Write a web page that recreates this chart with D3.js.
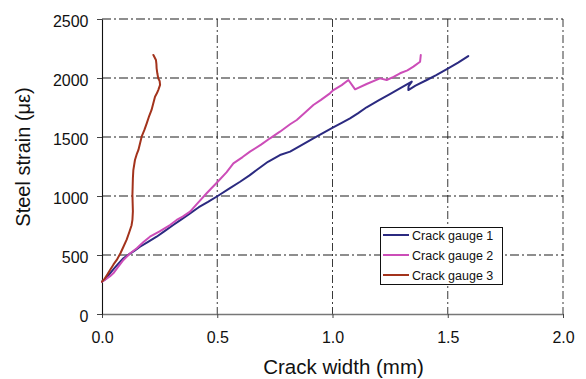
<!DOCTYPE html>
<html><head><meta charset="utf-8">
<script src="https://cdn.jsdelivr.net/npm/d3@7"></script>
<style>body{margin:0;background:#fff}svg{display:block}text{font-family:"Liberation Sans",Arial,sans-serif}</style>
</head><body><svg id="c" width="586" height="379"></svg>
<script>
const xTicks = [0, 0.5, 1.0, 1.5, 2.0];
const yTicks = [0, 500, 1000, 1500, 2000, 2500];
const seriesNames = ["Crack gauge 1", "Crack gauge 2", "Crack gauge 3"];
const seriesColors = ["#2b2a80", "#cc4db8", "#a3331c"];

const gauge1 = [[0,274],[0.012,290],[0.025,320],[0.035,345],[0.05,380],[0.07,425],[0.093,472],[0.12,510],[0.14,535],[0.165,570],[0.2,612],[0.237,655],[0.27,700],[0.309,754],[0.34,795],[0.382,853],[0.42,905],[0.46,950],[0.502,1000],[0.55,1060],[0.599,1121],[0.64,1175],[0.671,1220],[0.72,1290],[0.772,1347],[0.816,1376],[0.86,1425],[0.917,1489],[0.96,1535],[1.003,1582],[1.04,1620],[1.076,1658],[1.11,1700],[1.148,1752],[1.2,1810],[1.249,1864],[1.3,1920],[1.344,1969],[1.33,1930],[1.329,1898],[1.36,1935],[1.409,1983],[1.45,2025],[1.502,2082],[1.545,2130],[1.589,2186]];
const gauge2 = [[0,274],[0.02,300],[0.035,320],[0.049,345],[0.07,400],[0.093,458],[0.12,510],[0.151,557],[0.18,610],[0.208,655],[0.25,700],[0.295,754],[0.324,797],[0.35,825],[0.382,867],[0.42,950],[0.454,1023],[0.502,1121],[0.54,1200],[0.57,1277],[0.61,1330],[0.642,1376],[0.69,1435],[0.729,1489],[0.772,1545],[0.816,1608],[0.845,1644],[0.88,1705],[0.917,1771],[0.95,1815],[0.989,1870],[1.004,1898],[1.04,1940],[1.069,1983],[1.085,1940],[1.098,1904],[1.148,1949],[1.206,1997],[1.235,1983],[1.265,2010],[1.293,2040],[1.325,2065],[1.351,2096],[1.38,2138],[1.383,2195]];
const gauge3 = [[0,274],[0.012,300],[0.025,340],[0.035,373],[0.05,420],[0.064,458],[0.08,515],[0.093,570],[0.107,630],[0.119,697],[0.128,750],[0.132,797],[0.134,870],[0.133,938],[0.132,1010],[0.133,1079],[0.134,1150],[0.136,1220],[0.143,1305],[0.15,1350],[0.158,1390],[0.172,1503],[0.184,1560],[0.194,1616],[0.205,1680],[0.215,1729],[0.23,1842],[0.238,1870],[0.244,1898],[0.252,1941],[0.25,1975],[0.244,1997],[0.24,2040],[0.237,2082],[0.236,2120],[0.234,2153],[0.223,2195]];
const allSeries = [gauge1, gauge2, gauge3];

const svg = d3.select("#c");
const L = 102, R = 563, T = 19, B = 314;
const x = d3.scaleLinear().domain([0, 2.0]).range([L, R]);
const y = d3.scaleLinear().domain([0, 2500]).range([B, T]);

// horizontal grid (gray dash-dot)
svg.append("g").selectAll("line").data(yTicks.filter(d => d > 0)).join("line")
  .attr("x1", L).attr("x2", R).attr("y1", d => y(d)).attr("y2", d => y(d))
  .attr("stroke", "#6a6a6a").attr("stroke-width", 1.3).attr("stroke-dasharray", "9,3,2,3");
// vertical grid (black dash-dot)
svg.append("g").selectAll("line").data(xTicks.filter(d => d > 0)).join("line")
  .attr("y1", T).attr("y2", B).attr("x1", d => x(d)).attr("x2", d => x(d))
  .attr("stroke", "#222").attr("stroke-width", 0.9).attr("stroke-dasharray", "8,3,2,3");

// axes
const xAxis = d3.axisBottom(x).tickValues(xTicks).tickFormat(d3.format(".1f")).tickSize(4).tickSizeOuter(0);
const gx = svg.append("g").attr("transform", `translate(0,${B})`).call(xAxis);
gx.select(".domain").attr("stroke", "#777").attr("stroke-width", 1.3);
gx.selectAll(".tick line").attr("stroke", "#444");
gx.selectAll("text").attr("font-size", 16).attr("fill", "#111").attr("y", 18).attr("dy", "0.71em");

const yAxis = d3.axisLeft(y).tickValues(yTicks).tickFormat(d3.format("d")).tickSize(5).tickSizeOuter(0);
const gy = svg.append("g").attr("transform", `translate(${L},0)`).call(yAxis);
gy.select(".domain").attr("stroke", "#111").attr("stroke-width", 1.1);
gy.selectAll(".tick line").attr("stroke", "#444");
gy.selectAll("text").attr("font-size", 16).attr("fill", "#111").attr("x", -13.5).attr("dy", "0.45em");

// series lines
const line = d3.line().x(d => x(d[0])).y(d => y(d[1]));
svg.append("g").selectAll("path").data(allSeries).join("path")
  .attr("d", line).attr("fill", "none")
  .attr("stroke", (d, i) => seriesColors[i]).attr("stroke-width", 2)
  .attr("stroke-linejoin", "round").attr("stroke-linecap", "round");

// axis titles
svg.append("text").attr("x", 343.5).attr("y", 374).attr("text-anchor", "middle")
  .attr("font-size", 20.5).attr("fill", "#111").text("Crack width (mm)");
svg.append("text").attr("transform", "translate(29.5,157) rotate(-90)").attr("text-anchor", "middle")
  .attr("font-size", 20).attr("fill", "#111").text("Steel strain (με)");

// legend
const lg = svg.append("g");
lg.append("rect").attr("x", 380.5).attr("y", 227.5).attr("width", 122).attr("height", 57)
  .attr("fill", "#fff").attr("stroke", "#111").attr("stroke-width", 1);
seriesNames.forEach((n, i) => {
  const yy = 235 + i * 20;
  lg.append("line").attr("x1", 383).attr("x2", 409).attr("y1", yy).attr("y2", yy)
    .attr("stroke", seriesColors[i]).attr("stroke-width", 2);
  lg.append("text").attr("x", 412).attr("y", yy + 4.5).attr("font-size", 12.5).attr("fill", "#111").text(n);
});
</script></body></html>
